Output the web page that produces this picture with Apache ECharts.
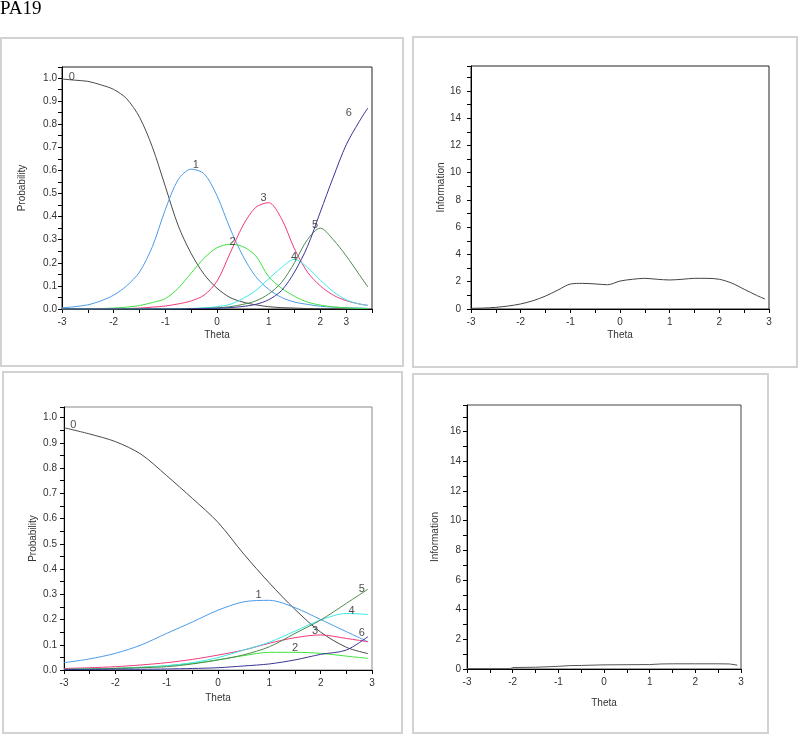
<!DOCTYPE html>
<html><head><meta charset="utf-8">
<script src="https://cdn.jsdelivr.net/npm/echarts@6/dist/echarts.min.js"></script>
<style>html,body{margin:0;padding:0;background:#fff}#c{width:800px;height:735px}</style>
</head><body><div id="c"></div>
<script>
// ---------- DATA ----------
const pageTitle = 'PA19';
const xTitle = 'Theta';
const probTitle = 'Probability';
const infoTitle = 'Information';
const catNames = ['0', '1', '2', '3', '4', '5', '6'];

// top-left: category probability curves
const thetaTL = [-3, -2.75, -2.5, -2.25, -2, -1.75, -1.5, -1.25, -1, -0.75, -0.5, -0.25, 0, 0.25, 0.5, 0.75, 1, 1.25, 1.5, 1.75, 2, 2.25, 2.5, 2.75, 2.92];
const tlCat0 = [0.995, 0.99, 0.985, 0.97, 0.95, 0.91, 0.83, 0.70, 0.53, 0.36, 0.24, 0.15, 0.09, 0.05, 0.03, 0.018, 0.01, 0.006, 0.004, 0.002, 0.001, 0.001, 0, 0, 0];
const tlCat1 = [0.005, 0.01, 0.018, 0.035, 0.06, 0.10, 0.16, 0.27, 0.43, 0.56, 0.605, 0.585, 0.49, 0.35, 0.23, 0.14, 0.085, 0.05, 0.03, 0.02, 0.012, 0.008, 0.006, 0.004, 0.003];
const tlCat2 = [0, 0, 0.001, 0.002, 0.004, 0.008, 0.015, 0.028, 0.045, 0.09, 0.155, 0.22, 0.265, 0.28, 0.27, 0.23, 0.14, 0.09, 0.055, 0.03, 0.017, 0.009, 0.005, 0.003, 0.002];
const tlCat3 = [0, 0, 0, 0, 0.001, 0.002, 0.004, 0.008, 0.013, 0.022, 0.035, 0.06, 0.12, 0.24, 0.36, 0.44, 0.46, 0.39, 0.26, 0.16, 0.10, 0.06, 0.036, 0.022, 0.016];
const tlCat4 = [0, 0, 0, 0, 0, 0, 0, 0, 0.001, 0.001, 0.002, 0.005, 0.01, 0.02, 0.045, 0.08, 0.13, 0.18, 0.215, 0.18, 0.125, 0.075, 0.04, 0.022, 0.015];
const tlCat5 = [0, 0, 0, 0, 0, 0, 0, 0, 0, 0.001, 0.002, 0.003, 0.005, 0.01, 0.02, 0.035, 0.065, 0.115, 0.20, 0.30, 0.35, 0.30, 0.23, 0.15, 0.095];
const tlCat6 = [0, 0, 0, 0, 0, 0, 0, 0, 0, 0, 0.001, 0.002, 0.003, 0.006, 0.011, 0.02, 0.04, 0.08, 0.16, 0.27, 0.42, 0.57, 0.71, 0.81, 0.87];
const tlLabelX = [-2.81, -0.41, 0.30, 0.90, 1.49, 1.90, 2.55];
const tlLabelY = [1.005, 0.625, 0.29, 0.48, 0.225, 0.365, 0.85];
// x tick labels of the top-left chart as printed (value -> text)
const tlTickValues = [-3, -2, -1, 0, 1, 2, 2.5];
const tlTickTexts = ['-3', '-2', '-1', '0', '1', '2', '3'];

// top-right: information
const thetaTR = [-3, -2.75, -2.5, -2.25, -2, -1.75, -1.5, -1.25, -1, -0.75, -0.5, -0.25, 0, 0.25, 0.5, 0.75, 1, 1.25, 1.5, 1.75, 2, 2.25, 2.5, 2.75, 2.92];
const trInfo = [0.05, 0.07, 0.12, 0.22, 0.37, 0.61, 0.95, 1.39, 1.83, 1.88, 1.84, 1.78, 2.05, 2.18, 2.25, 2.18, 2.13, 2.18, 2.25, 2.25, 2.18, 1.9, 1.45, 1.0, 0.73];

// bottom-left: category probability curves
const thetaBL = [-3, -2.5, -2, -1.5, -1, -0.5, 0, 0.5, 1, 1.5, 2, 2.5, 2.92];
const blCat0 = [0.96, 0.935, 0.905, 0.855, 0.77, 0.68, 0.585, 0.46, 0.345, 0.24, 0.15, 0.09, 0.065];
const blCat1 = [0.029, 0.044, 0.066, 0.099, 0.145, 0.19, 0.237, 0.27, 0.276, 0.247, 0.20, 0.152, 0.112];
const blCat2 = [0.003, 0.005, 0.007, 0.011, 0.017, 0.026, 0.04, 0.057, 0.07, 0.07, 0.066, 0.055, 0.046];
const blCat3 = [0.006, 0.009, 0.013, 0.02, 0.029, 0.042, 0.059, 0.079, 0.106, 0.128, 0.139, 0.125, 0.112];
const blCat4 = [0.002, 0.004, 0.006, 0.01, 0.017, 0.029, 0.049, 0.079, 0.11, 0.154, 0.198, 0.224, 0.22];
const blCat5 = [0.003, 0.004, 0.006, 0.009, 0.013, 0.024, 0.04, 0.06, 0.092, 0.145, 0.198, 0.264, 0.32];
const blCat6 = [0.002, 0.002, 0.003, 0.003, 0.004, 0.006, 0.009, 0.016, 0.024, 0.04, 0.062, 0.079, 0.132];
const blLabelX = [-2.82, 0.79, 1.50, 1.89, 2.60, 2.80, 2.80];
const blLabelY = [0.972, 0.297, 0.086, 0.156, 0.235, 0.323, 0.145];

// bottom-right: information
const thetaBR = [-3, -2.5, -2.05, -2, -1.5, -1, -0.75, -0.5, 0, 0.5, 1, 1.25, 1.5, 2, 2.5, 2.75, 2.92];
const brInfo = [0.02, 0.02, 0.02, 0.10, 0.12, 0.18, 0.23, 0.24, 0.28, 0.29, 0.30, 0.34, 0.35, 0.35, 0.35, 0.34, 0.26];

// ---------- STYLE ----------
const FONT = '"Liberation Sans", Arial, sans-serif';
const catColors = ['#4a4a4a', '#4c9be8', '#3fe23f', '#ee3a7e', '#3ee8e8', '#4f8a4f', '#3a3596'];
const panelStroke = '#d2d2d2';

const tlCats = [tlCat0, tlCat1, tlCat2, tlCat3, tlCat4, tlCat5, tlCat6];
const blCats = [blCat0, blCat1, blCat2, blCat3, blCat4, blCat5, blCat6];

const chart = echarts.init(document.getElementById('c'), null, {renderer: 'canvas'});

const grids = [
  {left: 62, top: 67, width: 310, height: 242, borderColor: '#222'},
  {left: 471, top: 66, width: 298, height: 243, borderColor: '#222'},
  {left: 64, top: 407, width: 308, height: 263, borderColor: '#888'},
  {left: 467, top: 405, width: 274, height: 264, borderColor: '#444'}
].map(g => Object.assign({show: true, borderWidth: 1, backgroundColor: 'transparent', containLabel: false}, g));

const intLabel = v => (Math.abs(v - Math.round(v)) < 1e-9 ? String(Math.round(v)) : '');
const tlLabel = v => {
  const i = tlTickValues.findIndex(t => Math.abs(t - v) < 1e-9);
  return i >= 0 ? tlTickTexts[i] : '';
};
const probLabel = v => {
  const t = Math.round(v * 100);
  return (Math.abs(v * 100 - t) < 1e-6 && t % 10 === 0) ? (t / 100).toFixed(1) : '';
};
const infoLabel = v => (Math.abs(v - Math.round(v)) < 1e-9 && Math.round(v) % 2 === 0) ? String(Math.round(v)) : '';

function xAx(idx, fmt, gap) {
  return {
    type: 'value', gridIndex: idx, min: -3, max: 3, interval: 0.5,
    name: xTitle, nameLocation: 'middle', nameGap: gap,
    nameTextStyle: {fontFamily: FONT, fontSize: 10, color: '#333'},
    axisLine: {onZero: false, lineStyle: {color: '#000', width: 1}},
    axisTick: {show: true, length: 4, lineStyle: {color: '#000'}},
    axisLabel: {formatter: fmt, margin: 8, fontFamily: FONT, fontSize: 10, color: '#333', showMinLabel: true, showMaxLabel: true},
    splitLine: {show: false}
  };
}
function yAx(idx, max, interval, fmt, name, gap, margin) {
  return {
    type: 'value', gridIndex: idx, min: 0, max: max, interval: interval,
    name: name, nameLocation: 'middle', nameGap: gap,
    nameTextStyle: {fontFamily: FONT, fontSize: 10, color: '#333'},
    axisLine: {show: true, onZero: false, lineStyle: {color: '#000', width: 1}},
    axisTick: {show: true, length: 4, lineStyle: {color: '#000'}},
    axisLabel: {formatter: fmt, margin: margin, fontFamily: FONT, fontSize: 10, color: '#333', showMinLabel: true, showMaxLabel: true},
    splitLine: {show: false}
  };
}

function line(idx, thetas, vals, color, smooth) {
  return {
    type: 'line', xAxisIndex: idx, yAxisIndex: idx,
    data: thetas.map((t, i) => [t, vals[i]]),
    symbol: 'none', showSymbol: false, smooth: smooth,
    lineStyle: {color: color, width: 1}, silent: true, z: 3
  };
}
function labels(idx, xs, ys) {
  return {
    type: 'scatter', xAxisIndex: idx, yAxisIndex: idx,
    data: xs.map((x, i) => [x, ys[i], catNames[i]]),
    symbolSize: 1, itemStyle: {color: 'rgba(0,0,0,0)'}, silent: true, z: 5,
    label: {show: true, position: 'inside', formatter: p => p.data[2], fontFamily: FONT, fontSize: 11, color: '#222'}
  };
}

const series = [];
tlCats.forEach((vals, i) => series.push(line(0, thetaTL, vals, catColors[i], 0.3)));
series.push(labels(0, tlLabelX, tlLabelY));
series.push(line(1, thetaTR, trInfo, '#444', 0.3));
blCats.forEach((vals, i) => series.push(line(2, thetaBL, vals, catColors[i], 0.3)));
series.push(labels(2, blLabelX, blLabelY));
series.push(line(3, thetaBR, brInfo, '#555', false));

const panelRect = (x, y, w, h) => ({
  type: 'rect', shape: {x: x, y: y, width: w, height: h},
  style: {fill: 'none', stroke: panelStroke, lineWidth: 2}, silent: true, z: -1
});

chart.setOption({
  animation: false,
  backgroundColor: '#fff',
  grid: grids,
  xAxis: [xAx(0, tlLabel, 21), xAx(1, intLabel, 21), xAx(2, intLabel, 23), xAx(3, intLabel, 29)],
  yAxis: [
    yAx(0, 1.047, 0.05, probLabel, probTitle, 35, 5),
    yAx(1, 17.83, 1, infoLabel, infoTitle, 17, 10),
    yAx(2, 1.042, 0.05, probLabel, probTitle, 26, 7),
    yAx(3, 17.8, 1, infoLabel, infoTitle, 27, 6)
  ],
  series: series,
  graphic: [
    panelRect(1, 38, 402, 328),
    panelRect(413, 37, 384, 330),
    panelRect(3, 372, 399, 361),
    panelRect(413, 374, 355, 359),
    {type: 'text', left: 0, top: 0, silent: true,
     style: {text: pageTitle, x: 0, y: 8, font: '19px "Liberation Serif", "Times New Roman", serif', fill: '#000', verticalAlign: 'middle'}}
  ]
});
</script></body></html>
